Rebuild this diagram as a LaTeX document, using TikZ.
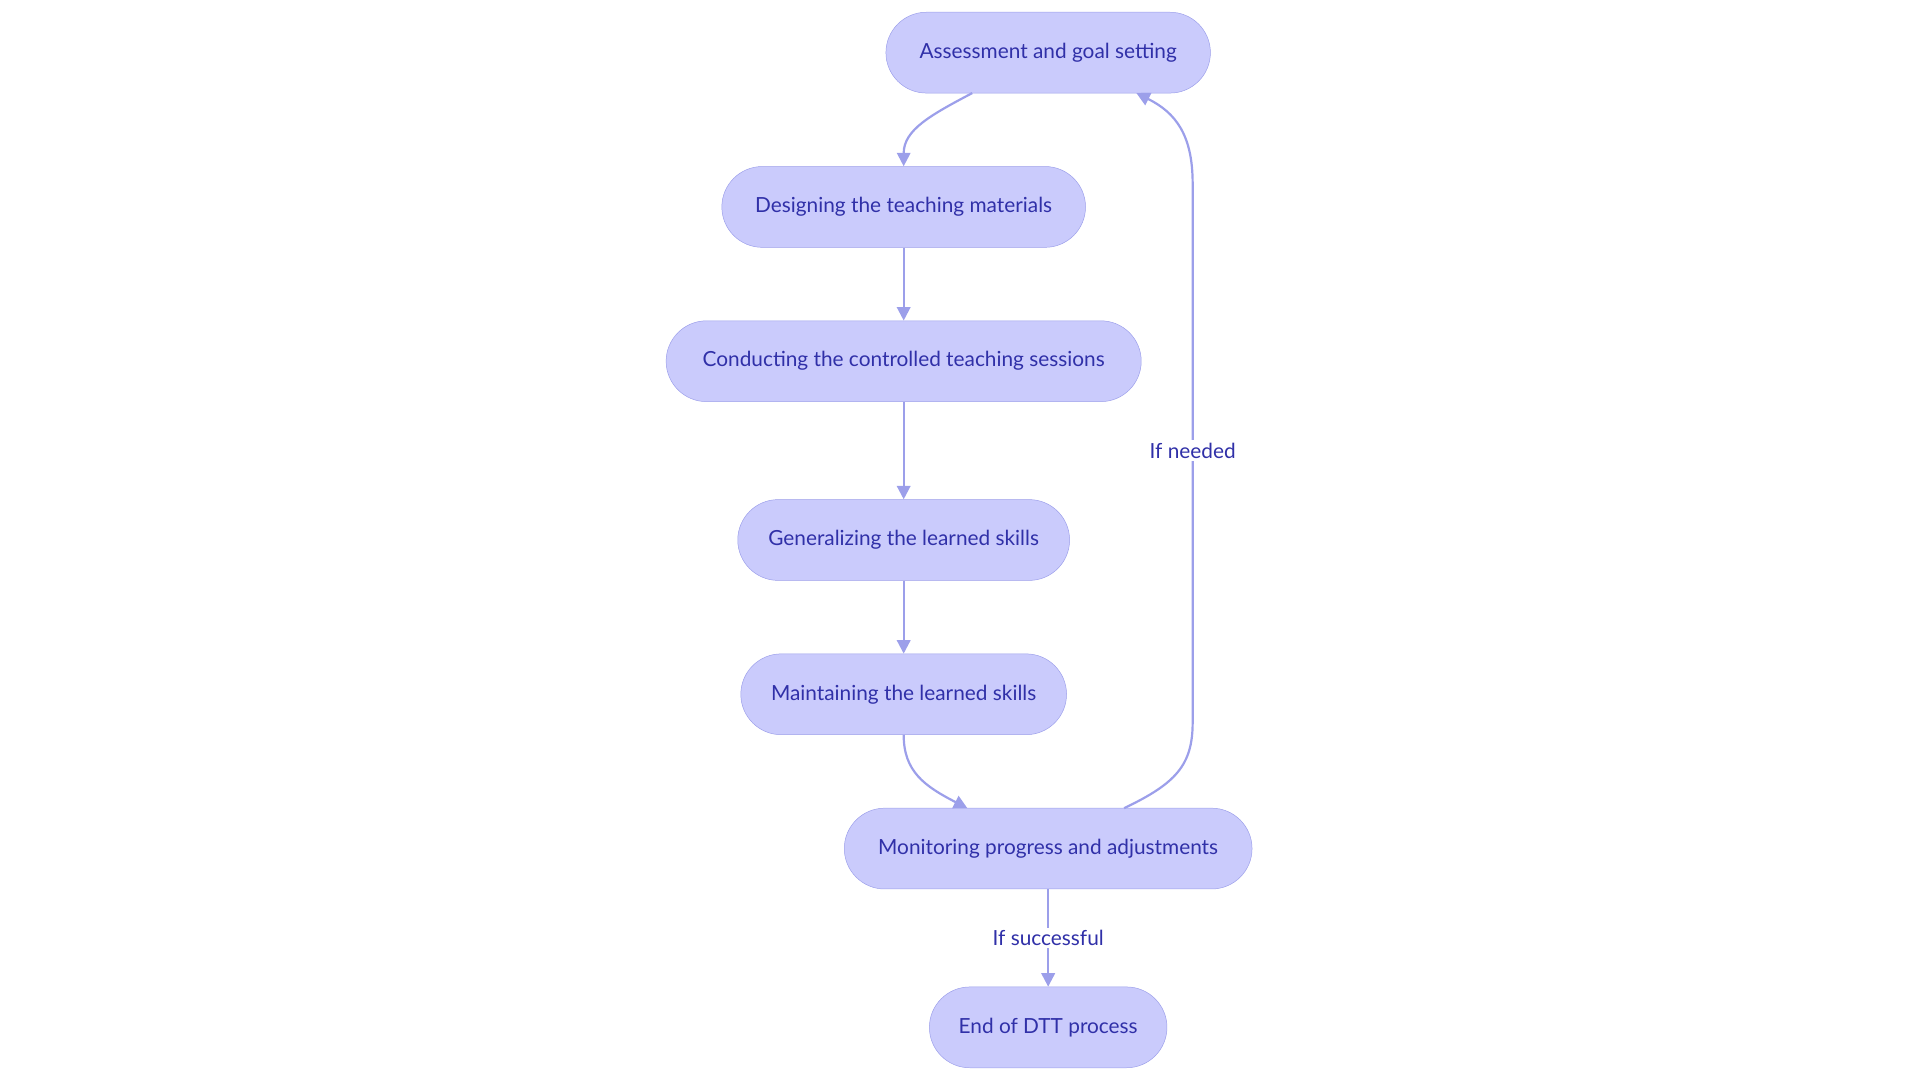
\documentclass[tikz,border=0pt]{standalone}
\usepackage{fontspec}
\setmainfont{Lato}
\usetikzlibrary{arrows.meta}
\definecolor{nfill}{HTML}{CACBFC}
\definecolor{nline}{HTML}{9C9FEA}
\definecolor{ntext}{HTML}{3030A8}
\tikzset{
  stepbox/.style={draw=nline, fill=nfill, rounded corners=33pt, minimum height=66pt, text=ntext, font=\fontsize{17}{20}\selectfont, inner sep=0pt},
  conn/.style={draw=nline, line width=1.8pt, -{Triangle[length=11pt,width=11pt]}},
  lbl/.style={fill=white, text=ntext, font=\fontsize{17}{20}\selectfont, inner sep=2pt}
}
\begin{document}
\begin{tikzpicture}[x=1pt,y=-1pt]
\useasboundingbox (0,0) rectangle (1568,882);
\node[stepbox, minimum width=265pt] (A) at (856,43) {Assessment and goal setting};
\node[stepbox, minimum width=297pt] (B) at (738,169) {Designing the teaching materials};
\node[stepbox, minimum width=388pt] (C) at (738,295) {Conducting the controlled teaching sessions};
\node[stepbox, minimum width=271pt] (D) at (738,441) {Generalizing the learned skills};
\node[stepbox, minimum width=266pt] (E) at (738,567) {Maintaining the learned skills};
\node[stepbox, minimum width=333pt] (F) at (856,693) {Monitoring progress and adjustments};
\node[stepbox, minimum width=194pt] (G) at (856,839) {End of DTT process};
\coordinate (a1) at (794,76);
\coordinate (f1) at (918,660);
\coordinate (a2) at (928,76);
\coordinate (f2) at (790,660);
\draw[conn] (a1) .. controls (760,94) and (738,106) .. (B.north);
\draw[conn] (B) -- (C);
\draw[conn] (C) -- (D);
\draw[conn] (D) -- (E);
\draw[conn] (E.south) .. controls (738,630) and (755,642) .. (f2);
\draw[conn] (f1) .. controls (960,640) and (974,625) .. (974,590) -- (974,150) .. controls (974,110) and (960,92) .. (a2);
\node[lbl] (ln) at (974,368) {If needed};
\draw[conn] (F) -- (G) node[lbl, midway] (ls) {If successful};
\end{tikzpicture}
\end{document}
